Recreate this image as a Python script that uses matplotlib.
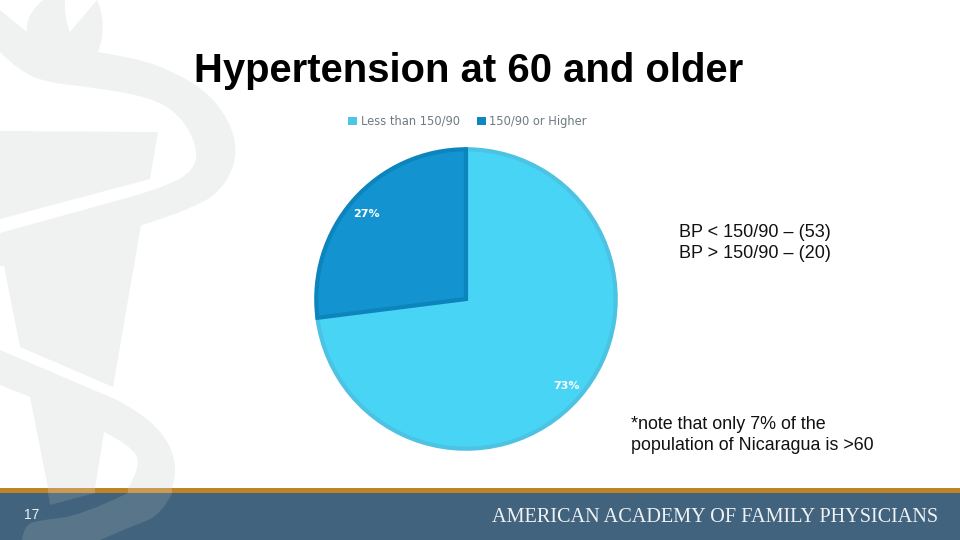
import matplotlib
matplotlib.use("Agg")
import matplotlib.pyplot as plt
from matplotlib.patches import Polygon, Rectangle, PathPatch
from matplotlib.path import Path

categories = ["Less than 150/90", "150/90 or Higher"]
values = [73, 27]
pct_labels = ["73%", "27%"]
fills = ["#48D4F5", "#1493D1"]
edges = ["#4CC3E2", "#0C84BC"]
title = "Hypertension at 60 and older"
counts = "BP < 150/90 – (53)\nBP > 150/90 – (20)"
note = "*note that only 7% of the\npopulation of Nicaragua is >60"
page = "17"
footer = "AMERICAN ACADEMY OF FAMILY PHYSICIANS"

W, H = 960, 540
fig = plt.figure(figsize=(9.6, 5.4), dpi=100, facecolor="white")
bg = fig.add_axes([0, 0, 1, 1])
bg.set_xlim(0, W); bg.set_ylim(H, 0); bg.axis("off")

def outline(runs, **kw):
    """Closed shape from runs of points; each run is a smooth curve, runs join with straight lines."""
    verts, codes = [], []
    for run in runs:
        verts.append(run[0]); codes.append(Path.MOVETO if not verts[1:] else Path.LINETO)
        for i in range(1, len(run) - 1):
            a = run[i]; b = run[i + 1]
            end = b if i == len(run) - 2 else ((a[0] + b[0]) / 2, (a[1] + b[1]) / 2)
            verts += [a, end]; codes += [Path.CURVE3, Path.CURVE3]
        if len(run) == 2:
            verts.append(run[1]); codes.append(Path.LINETO)
    verts.append(verts[0]); codes.append(Path.CLOSEPOLY)
    return PathPatch(Path(verts, codes), ec="none", **kw)

WM = "#F0F1F1"
WM_FOOT = "#587589"
WM_GOLD = "#CB9A52"

# flame and upper serpent
bg.add_patch(outline([
    [(0, 10), (27, 32)], [(27, 32), (25, 15), (43, 0)], [(43, 0), (65, 0)], [(65, 0), (64, 18), (70, 32)],
    [(70, 32), (97, 0)], [(97, 0), (108, 25), (98, 52)],
    [(98, 52), (135, 58), (170, 70), (205, 90), (228, 118), (238, 150), (228, 182), (200, 207), (142, 225)],
    [(142, 225), (0, 265)], [(0, 265), (0, 233)], [(0, 233), (130, 197)],
    [(130, 197), (165, 187), (195, 170), (197, 145), (180, 115), (150, 97), (90, 87), (50, 83), (20, 72), (0, 52)],
], fc=WM, zorder=1))
# torch cup
bg.add_patch(Polygon([(0, 131), (158, 132), (150, 179), (0, 219)], closed=True, fc=WM, ec="none", zorder=1))
bg.add_patch(Polygon([(0, 238), (40, 225), (141, 225), (113, 387), (20, 347), (4, 266), (0, 266)],
                     closed=True, fc=WM, ec="none", zorder=1))
# lower serpent and handle
bg.add_patch(outline([
    [(0, 350), (117, 400)],
    [(117, 400), (155, 420), (180, 465), (172, 488)],
    [(172, 488), (128, 488)],
    [(128, 488), (142, 465), (130, 445), (104, 432)],
    [(104, 432), (95, 488)], [(95, 488), (48, 488)], [(48, 488), (30, 397)], [(30, 397), (0, 385)],
], fc=WM, zorder=1))

# footer
bg.add_patch(Rectangle((0, 493), W, 47, fc="#41637D", ec="none", zorder=2))
bg.add_patch(Rectangle((0, 488), W, 5, fc="#BE8227", ec="none", zorder=3))
bg.add_patch(Rectangle((48, 488), 47, 5, fc=WM_GOLD, ec="none", zorder=3.1))
bg.add_patch(Rectangle((128, 488), 44, 5, fc=WM_GOLD, ec="none", zorder=3.1))
bg.add_patch(Polygon([(48, 493), (95, 493), (50, 505)], closed=True, fc=WM_FOOT, ec="none", zorder=2.5))
bg.add_patch(outline([
    [(128, 493), (172, 493)],
    [(172, 493), (162, 515), (130, 527), (100, 540)],
    [(100, 540), (22, 540)],
    [(22, 540), (24, 525), (40, 520), (80, 516), (128, 493)],
], fc=WM_FOOT, zorder=2.5))

bg.text(24, 515, page, color="#EDF1F4", fontsize=10, family="Liberation Sans", ha="left", va="center", zorder=4)
bg.text(938, 517, footer, color="#EEF2F5", fontsize=14.6, family="Liberation Serif", ha="right", va="center", zorder=4)

bg.text(194, 71, title, fontsize=28.8, fontweight="bold", family="Liberation Sans", color="black", va="center", zorder=4)
bg.text(679, 243, counts, fontsize=13, family="Liberation Sans", color="#111111", va="center", linespacing=1.37, zorder=4)
bg.text(631, 435, note, fontsize=12.9, family="Liberation Sans", color="#111111", va="center", linespacing=1.37, zorder=4)

# pie
cx, cy, r = 466, 299, 152
ax = fig.add_axes([(cx - r) / W, 1 - (cy + r) / H, 2 * r / W, 2 * r / H])
wedges, _ = ax.pie(values, startangle=90, counterclock=False, colors=fills, radius=0.985,
                   center=(0, 0), wedgeprops=dict(linewidth=3), frame=False)
ax.set_xlim(-1, 1); ax.set_ylim(-1, 1); ax.set_aspect("equal"); ax.axis("off")
for w, e in zip(wedges, edges):
    w.set_edgecolor(e)
ax.patch.set_alpha(0)
ax.text(100 / 152, -87 / 152, pct_labels[0], color="white", fontsize=8, fontweight="bold",
        family="DejaVu Sans", ha="center", va="center")
ax.text(-100 / 152, 85 / 152, pct_labels[1], color="white", fontsize=8, fontweight="bold",
        family="DejaVu Sans", ha="center", va="center")

handles = [Rectangle((0, 0), 1, 1, fc=c, ec="none") for c in ["#4CC6E4", "#0F86BE"]]
bg.legend(handles, categories, loc="center", bbox_to_anchor=(467.5 / W, 1 - 121.5 / H), bbox_transform=fig.transFigure,
          ncol=2, frameon=False, fontsize=8.3, handlelength=0.75, handleheight=0.75, handletextpad=0.3,
          columnspacing=1.5, labelcolor="#6E7A82")

fig.savefig("out.png", dpi=100, facecolor="white")
